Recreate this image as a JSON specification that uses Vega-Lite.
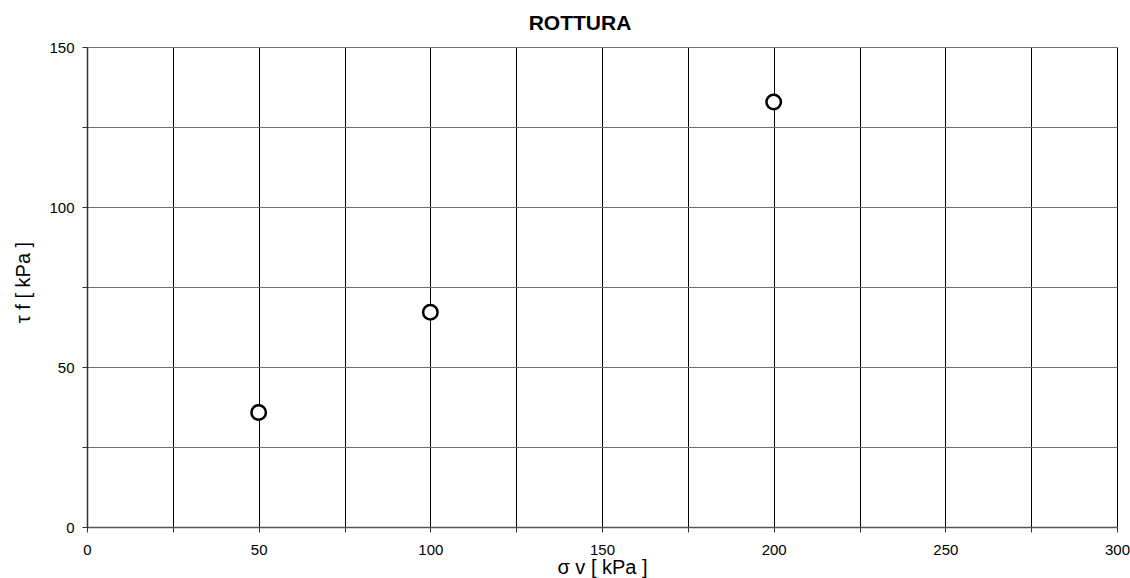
{
  "$schema": "https://vega.github.io/schema/vega-lite/v6.json",
  "autosize": {"type": "none"},
  "width": 1030,
  "height": 480,
  "padding": {"left": 87, "top": 47, "right": 13, "bottom": 51},
  "background": "white",
  "config": {
    "font": "Liberation Sans",
    "view": {"stroke": null},
    "axis": {"labelFont": "Liberation Sans", "titleFont": "Liberation Sans", "labelColor": "black", "titleColor": "black", "labelFontSize": 15, "titleFontWeight": "normal", "titleFontSize": 20}
  },
  "title": {"text": "ROTTURA", "font": "Liberation Sans", "fontSize": 21, "fontWeight": "bold", "color": "black", "anchor": "middle", "dx": -22, "offset": 6},
  "data": {"values": [
    {"sigma": 50, "tau": 35.8},
    {"sigma": 100, "tau": 67.1},
    {"sigma": 200, "tau": 132.8}
  ]},
  "mark": {"type": "point", "shape": "circle", "filled": false, "fill": "white", "fillOpacity": 1, "stroke": "black", "strokeWidth": 2.5, "size": 210, "opacity": 1},
  "encoding": {
    "x": {
      "field": "sigma", "type": "quantitative",
      "scale": {"domain": [0, 300], "nice": false, "zero": true},
      "axis": {
        "title": "σ v [ kPa ]",
        "values": [0, 25, 50, 75, 100, 125, 150, 175, 200, 225, 250, 275, 300],
        "labelExpr": "datum.value % 50 == 0 ? datum.label : ''",
        "grid": true, "gridColor": "black", "gridWidth": 1, "gridOpacity": 1,
        "domainColor": "#555555", "domainWidth": 1.5,
        "tickColor": "#333333", "tickSize": 5, "tickWidth": 1,
        "labelPadding": 10, "labelFlush": false,
        "titleY": 46, "titleBaseline": "alphabetic"
      }
    },
    "y": {
      "field": "tau", "type": "quantitative",
      "scale": {"domain": [0, 150], "nice": false, "zero": true},
      "axis": {
        "title": "τ f [ kPa ]",
        "values": [0, 25, 50, 75, 100, 125, 150],
        "labelExpr": "datum.value % 50 == 0 ? datum.label : ''",
        "grid": true, "gridColor": "#707070", "gridWidth": 1, "gridOpacity": 1,
        "domainColor": "#333333", "domainWidth": 1.5,
        "tickColor": "#333333", "tickSize": 5, "tickWidth": 1,
        "labelPadding": 8,
        "titleX": -64, "titleY": 235, "titleAlign": "center", "titleBaseline": "middle", "titleAngle": -90
      }
    }
  }
}
